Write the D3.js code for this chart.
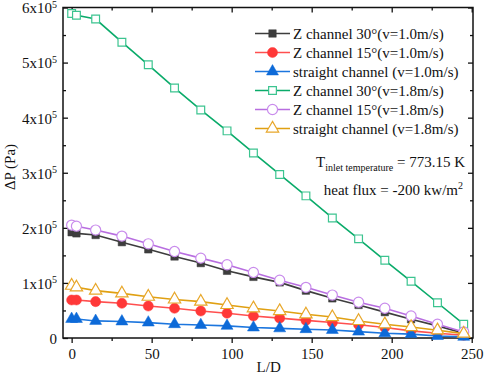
<!DOCTYPE html>
<html>
<head>
<meta charset="utf-8">
<script src="https://cdn.jsdelivr.net/npm/d3@7/dist/d3.min.js"></script>
<style>
  body { margin: 0; background: #fff; }
  svg { display: block; }
  svg text { font-family: "Liberation Serif", "Times New Roman", serif !important; fill: #111; }
</style>
</head>
<body>
<script>
// L/D positions of the markers (same for every series)
var ld = [0, 3, 15, 31.4, 47.9, 64.3, 80.7, 97.1, 113.6, 130, 146.4, 162.9, 179.3, 195.7, 212.1, 228.6, 245];

// pressure drop, in units of 1e5 Pa
var z30_v10 = [1.92, 1.90, 1.87, 1.74, 1.61, 1.48, 1.36, 1.22, 1.11, 1.01, 0.86, 0.72, 0.60, 0.47, 0.34, 0.22, 0.085];
var z15_v10 = [0.69, 0.69, 0.66, 0.63, 0.58, 0.54, 0.49, 0.45, 0.40, 0.36, 0.32, 0.28, 0.24, 0.19, 0.13, 0.085, 0.05];
var str_v10 = [0.345, 0.345, 0.31, 0.30, 0.28, 0.25, 0.235, 0.22, 0.19, 0.175, 0.16, 0.145, 0.115, 0.085, 0.07, 0.035, 0.02];
var z30_v18 = [5.89, 5.86, 5.79, 5.37, 4.96, 4.54, 4.14, 3.76, 3.36, 2.97, 2.58, 2.18, 1.80, 1.41, 1.03, 0.64, 0.25];
var z15_v18 = [2.05, 2.03, 1.96, 1.85, 1.71, 1.57, 1.45, 1.33, 1.19, 1.05, 0.92, 0.78, 0.65, 0.54, 0.40, 0.25, 0.11];
var str_v18 = [0.95, 0.92, 0.86, 0.81, 0.75, 0.70, 0.66, 0.60, 0.54, 0.49, 0.43, 0.38, 0.31, 0.25, 0.20, 0.14, 0.08];

var seriesNames = [
  "Z channel 30\u00b0(v=1.0m/s)",
  "Z channel 15\u00b0(v=1.0m/s)",
  "straight channel (v=1.0m/s)",
  "Z channel 30\u00b0(v=1.8m/s)",
  "Z channel 15\u00b0(v=1.8m/s)",
  "straight channel (v=1.8m/s)"
];
var seriesValues = [z30_v10, z15_v10, str_v10, z30_v18, z15_v18, str_v18];

var xTicks = [0, 50, 100, 150, 200, 250];
var yTicks = [0, 1, 2, 3, 4, 5, 6];
var yTickLabels = ["0", "1x10", "2x10", "3x10", "4x10", "5x10", "6x10"];

//Width and height
var w = 484;
var h = 374;
var serif = "'Liberation Serif', 'Times New Roman', serif";

// styles per series: line colour, marker colour, symbol, filled or not
var styles = [
  { line: "#3d3d3d", mark: "#3d3d3d", sym: d3.symbolSquare, fill: true, size: 56 },
  { line: "#ff4f4f", mark: "#ff3838", sym: d3.symbolCircle, fill: true, size: 80 },
  { line: "#1c76de", mark: "#0d6ad8", sym: d3.symbolTriangle, fill: true, size: 62 },
  { line: "#0aab6a", mark: "#3cc490", sym: d3.symbolSquare, fill: false, size: 60 },
  { line: "#b86ee0", mark: "#c98cec", sym: d3.symbolCircle, fill: false, size: 80 },
  { line: "#e0a012", mark: "#e8a72a", sym: d3.symbolTriangle, fill: false, size: 66 }
];

// plot box edges
var pLeft = 63, pRight = 473, pTop = 7.5, pBottom = 338;

var xScale = d3.scaleLinear()
               .domain([-5.4, 250.8])
               .range([pLeft, pRight]);

var yScale = d3.scaleLinear()
               .domain([0, 6])
               .range([pBottom, pTop]);

var svg = d3.select("body")
            .append("svg")
            .attr("width", w)
            .attr("height", h)
            .attr("font-family", serif);

//Minor tick positions
var xMinor = xTicks.slice(0, -1).map(function(d) { return d + 25; });
var yMinor = yTicks.slice(0, -1).map(function(d) { return d + 0.5; });

function tidy(g) {
  g.attr("font-family", serif).attr("font-size", 15);
  g.select(".domain").remove();
  g.selectAll("line").attr("stroke", "#111").attr("stroke-width", 1.3);
}

//Bottom axis (ticks out)
svg.append("g")
   .attr("transform", "translate(0," + pBottom + ")")
   .call(d3.axisBottom(xScale).tickValues(xTicks).tickSize(5).tickPadding(5).tickFormat(d3.format("d")))
   .call(tidy)
   .selectAll("text")
   .attr("fill", "#111");

svg.append("g")
   .attr("transform", "translate(0," + pBottom + ")")
   .call(d3.axisBottom(xScale).tickValues(xMinor).tickSize(3).tickFormat(""))
   .call(tidy);

//Top axis (ticks in)
svg.append("g")
   .attr("transform", "translate(0," + pTop + ")")
   .call(d3.axisTop(xScale).tickValues(xTicks).tickSize(-5).tickFormat(""))
   .call(tidy);
svg.append("g")
   .attr("transform", "translate(0," + pTop + ")")
   .call(d3.axisTop(xScale).tickValues(xMinor).tickSize(-3).tickFormat(""))
   .call(tidy);

//Left axis (ticks in)
var yAxisG = svg.append("g")
   .attr("transform", "translate(" + pLeft + ",0)")
   .call(d3.axisLeft(yScale).tickValues(yTicks).tickSize(-5).tickPadding(6))
   .call(tidy);

yAxisG.selectAll(".tick text")
   .attr("fill", "#111")
   .attr("dy", "0.36em")
   .text(null)
   .each(function(d, i) {
      var t = d3.select(this);
      t.append("tspan").text(yTickLabels[i]);
      if (d > 0) {
        t.append("tspan")
         .attr("dy", "-0.55em")
         .attr("font-size", 10)
         .text("5");
      }
   });

svg.append("g")
   .attr("transform", "translate(" + pLeft + ",0)")
   .call(d3.axisLeft(yScale).tickValues(yMinor).tickSize(-3).tickFormat(""))
   .call(tidy);

//Right axis (ticks in)
svg.append("g")
   .attr("transform", "translate(" + pRight + ",0)")
   .call(d3.axisRight(yScale).tickValues(yTicks).tickSize(-5).tickFormat(""))
   .call(tidy);
svg.append("g")
   .attr("transform", "translate(" + pRight + ",0)")
   .call(d3.axisRight(yScale).tickValues(yMinor).tickSize(-3).tickFormat(""))
   .call(tidy);

//Frame
svg.append("rect")
   .attr("x", pLeft)
   .attr("y", pTop)
   .attr("width", pRight - pLeft)
   .attr("height", pBottom - pTop)
   .attr("fill", "none")
   .attr("stroke", "#111")
   .attr("stroke-width", 1.5);

//Axis titles
svg.append("text")
   .attr("x", (xScale(0) + xScale(250)) / 2 - 3)
   .attr("y", 372)
   .attr("text-anchor", "middle")
   .attr("font-size", 15)
   .text("L/D");

svg.append("text")
   .attr("transform", "translate(15,167) rotate(-90)")
   .attr("text-anchor", "middle")
   .attr("font-size", 15)
   .text("\u0394P (Pa)");

//Lines and markers
var line = d3.line()
             .x(function(d) { return xScale(d[0]); })
             .y(function(d) { return yScale(d[1]); });

seriesValues.forEach(function(vals, s) {
  var st = styles[s];
  var pts = ld.map(function(d, i) { return [d, vals[i]]; });

  svg.append("path")
     .datum(pts)
     .attr("d", line)
     .attr("fill", "none")
     .attr("stroke", st.line)
     .attr("stroke-width", 1.6);

  svg.append("g").selectAll("path")
     .data(pts)
     .enter()
     .append("path")
     .attr("transform", function(d) { return "translate(" + xScale(d[0]) + "," + yScale(d[1]) + ")"; })
     .attr("d", d3.symbol().type(st.sym).size(st.size))
     .attr("fill", st.fill ? st.mark : "#fff")
     .attr("stroke", st.mark)
     .attr("stroke-width", st.fill ? 0.5 : 1.2);
});

//Legend
var legend = svg.append("g");
seriesNames.forEach(function(name, i) {
  var st = styles[i];
  var yy = 33.5 + i * 19;
  legend.append("line")
        .attr("x1", 255).attr("x2", 290)
        .attr("y1", yy).attr("y2", yy)
        .attr("stroke", st.line)
        .attr("stroke-width", 1.6);
  legend.append("path")
        .attr("transform", "translate(272.5," + yy + ")")
        .attr("d", d3.symbol().type(st.sym).size(st.size))
        .attr("fill", st.fill ? st.mark : "#fff")
        .attr("stroke", st.mark)
        .attr("stroke-width", st.fill ? 0.5 : 1.2);
  legend.append("text")
        .attr("x", 293)
        .attr("y", yy + 5)
        .attr("font-size", 15)
        .text(name);
});

//Annotation
var note1 = svg.append("text")
   .attr("x", 465)
   .attr("y", 167)
   .attr("text-anchor", "end")
   .attr("font-size", 15);
note1.append("tspan").text("T");
note1.append("tspan").attr("dy", 4).attr("font-size", 10).text("inlet temperature");
note1.append("tspan").attr("dy", -4).text(" = 773.15 K");

var note2 = svg.append("text")
   .attr("x", 463)
   .attr("y", 195)
   .attr("text-anchor", "end")
   .attr("font-size", 15);
note2.append("tspan").text("heat flux = -200 kw/m");
note2.append("tspan").attr("dy", -6).attr("font-size", 10).text("2");
</script>
</body>
</html>
